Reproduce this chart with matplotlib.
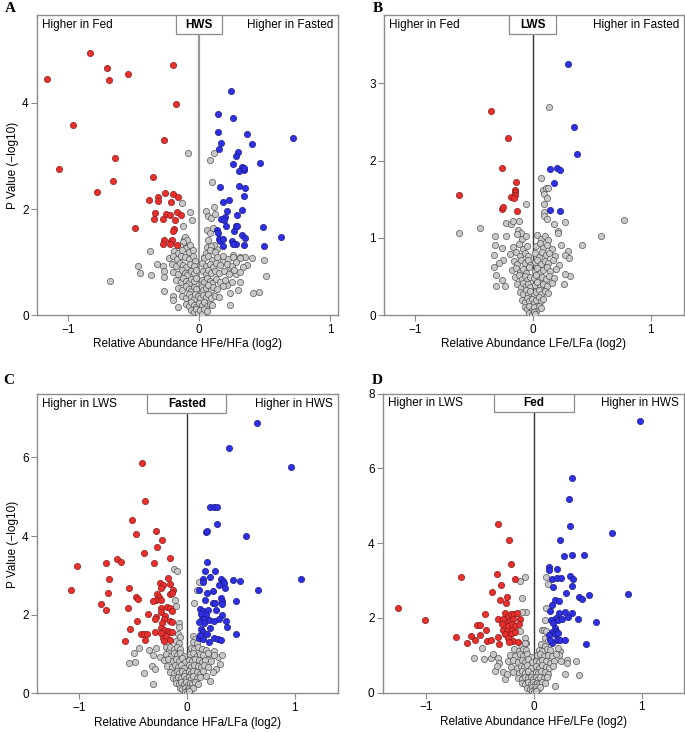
from __future__ import annotations

import matplotlib
matplotlib.use("Agg")
import matplotlib.pyplot as plt
from matplotlib.patches import Rectangle
import matplotlib.transforms as mtransforms

plt.rcParams["font.family"] = ["Liberation Sans", "DejaVu Sans"]

# ---------------- Panel A: HWS, HFe/HFa ----------------
red_a = [(-1.163, 4.45), (-0.837, 4.95), (-0.705, 4.65), (-0.692, 4.43), (-0.547, 4.55),
         (-0.196, 4.71), (-0.178, 3.98), (-0.967, 3.59), (-0.267, 3.31), (-1.071, 2.76),
         (-0.646, 2.97), (-0.659, 2.53), (-0.779, 2.32), (-0.354, 2.60), (-0.260, 2.31),
         (-0.384, 2.18), (-0.318, 2.23), (-0.318, 2.16), (-0.201, 2.28), (-0.163, 2.23),
         (-0.214, 2.14), (-0.341, 1.93), (-0.344, 1.82), (-0.257, 1.91), (-0.221, 1.88),
         (-0.168, 1.94), (-0.142, 1.88), (-0.280, 1.81), (-0.183, 1.79), (-0.191, 1.62),
         (-0.196, 1.59), (-0.491, 1.65), (-0.265, 1.42), (-0.275, 1.34), (-0.216, 1.40),
         (-0.204, 1.42), (-0.170, 1.32), (-0.226, 1.34)]
blue_a = [(0.247, 4.23), (0.142, 3.79), (0.257, 3.72), (0.145, 3.45), (0.364, 3.41),
          (0.715, 3.34), (0.170, 3.24), (0.407, 3.22), (0.150, 3.13), (0.295, 3.08),
          (0.280, 3.00), (0.260, 2.85), (0.466, 2.86), (0.331, 2.80), (0.305, 2.72),
          (0.341, 2.73), (0.346, 2.77), (0.305, 2.44), (0.349, 2.39), (0.163, 2.41),
          (0.346, 2.24), (0.229, 2.17), (0.183, 2.14), (0.326, 1.99), (0.216, 1.97),
          (0.290, 1.89), (0.198, 1.85), (0.170, 1.81), (0.193, 1.79), (0.209, 1.69),
          (0.280, 1.69), (0.293, 1.69), (0.135, 1.61), (0.270, 1.59), (0.491, 1.66),
          (0.626, 1.48), (0.328, 1.51), (0.354, 1.45), (0.148, 1.54), (0.150, 1.44),
          (0.160, 1.40), (0.186, 1.43), (0.254, 1.40), (0.280, 1.34), (0.181, 1.30),
          (0.346, 1.32), (0.494, 1.30), (0.262, 1.35)]
grey_a = [(-0.087, 3.05), (0.112, 3.06), (0.084, 2.93), (0.099, 2.51), (-0.682, 0.65),
          (-0.379, 1.21), (-0.471, 0.93), (-0.455, 0.79), (-0.369, 0.75), (-0.323, 0.97),
          (-0.277, 0.93), (-0.265, 0.83), (-0.265, 0.72), (-0.267, 0.46), (-0.198, 0.36),
          (-0.196, 0.28), (-0.158, 0.16), (-0.130, 2.12), (-0.071, 1.94), (-0.051, 1.79),
          (-0.127, 1.69), (-0.115, 1.44), (-0.120, 1.35), (0.056, 1.96), (0.069, 1.87),
          (0.089, 1.84), (0.117, 2.03), (0.125, 1.91), (0.059, 1.60), (0.087, 1.54),
          (0.109, 1.64), (0.071, 1.41), (0.092, 1.29), (0.135, 1.25), (0.117, 1.32),
          (0.407, 1.07), (0.494, 1.04), (0.369, 0.94), (0.509, 0.74), (0.412, 0.42),
          (0.455, 0.43), (0.234, 0.20), (0.282, 0.78), (0.313, 0.63), (0.300, 0.47),
          (0.237, 0.41), (0.211, 0.56), (0.036, 1.10), (0.038, 0.85), (0.262, 1.13),
          (0.313, 1.10), (0.351, 1.10), (0.338, 0.91), (0.237, 0.91), (0.186, 1.03),
          (-0.11, 1.48), (-0.09, 1.42), (-0.12, 1.38), (-0.15, 1.30), (-0.10, 1.27),
          (-0.07, 1.33), (0.06, 1.28), (0.09, 1.31), (-0.19, 1.21), (-0.16, 1.17),
          (-0.13, 1.22), (-0.08, 1.19), (-0.05, 1.23), (0.05, 1.18), (0.08, 1.22),
          (0.12, 1.19), (-0.23, 1.08), (-0.20, 1.12), (-0.17, 1.06), (-0.14, 1.11),
          (-0.11, 1.09), (-0.08, 1.05), (-0.05, 1.12), (-0.03, 1.02), (0.04, 1.07),
          (0.07, 1.11), (0.10, 1.04), (0.14, 1.10), (0.18, 1.12), (0.22, 1.06),
          (0.26, 1.09), (0.31, 1.07), (-0.21, 0.96), (-0.18, 0.92), (-0.15, 0.99),
          (-0.12, 0.94), (-0.10, 0.90), (-0.07, 0.97), (-0.04, 0.93), (0.02, 0.98),
          (0.05, 0.92), (0.08, 0.96), (0.11, 0.91), (0.13, 0.98), (0.16, 0.94),
          (0.21, 0.97), (0.25, 0.92), (0.28, 1.00), (-0.20, 0.82), (-0.16, 0.78),
          (-0.13, 0.85), (-0.11, 0.80), (-0.09, 0.76), (-0.06, 0.84), (-0.04, 0.79),
          (-0.02, 0.86), (0.03, 0.83), (0.05, 0.77), (0.07, 0.86), (0.09, 0.80),
          (0.12, 0.84), (0.15, 0.79), (0.19, 0.83), (0.23, 0.78), (0.27, 0.85),
          (0.31, 0.81), (-0.18, 0.67), (-0.14, 0.63), (-0.12, 0.70), (-0.10, 0.65),
          (-0.08, 0.61), (-0.06, 0.69), (-0.04, 0.64), (-0.02, 0.71), (0.02, 0.66),
          (0.04, 0.62), (0.06, 0.70), (0.08, 0.65), (0.10, 0.61), (0.13, 0.68),
          (0.16, 0.63), (0.20, 0.67), (0.25, 0.62), (-0.16, 0.52), (-0.13, 0.48),
          (-0.10, 0.55), (-0.08, 0.50), (-0.06, 0.46), (-0.04, 0.53), (-0.02, 0.49),
          (0.02, 0.54), (0.03, 0.47), (0.05, 0.51), (0.07, 0.56), (0.09, 0.48),
          (0.11, 0.53), (0.14, 0.50), (0.18, 0.55), (-0.13, 0.37), (-0.10, 0.33),
          (-0.08, 0.39), (-0.06, 0.35), (-0.04, 0.31), (-0.03, 0.40), (-0.01, 0.36),
          (0.01, 0.32), (0.03, 0.38), (0.05, 0.34), (0.07, 0.40), (0.09, 0.33),
          (0.12, 0.37), (0.15, 0.35), (-0.10, 0.22), (-0.08, 0.18), (-0.06, 0.24),
          (-0.04, 0.20), (-0.02, 0.16), (0.00, 0.23), (0.02, 0.19), (0.04, 0.25),
          (0.06, 0.17), (0.08, 0.22), (0.10, 0.20), (-0.06, 0.10), (-0.04, 0.06),
          (-0.02, 0.12), (-0.01, 0.04), (0.01, 0.09), (0.02, 0.03), (0.04, 0.11),
          (0.06, 0.07)]

# ---------------- Panel B: LWS, LFe/LFa ----------------
red_b = [(-0.354, 2.64), (-0.207, 2.29), (-0.257, 1.90), (-0.141, 1.73), (-0.153, 1.62),
         (-0.147, 1.59), (-0.150, 1.56), (-0.181, 1.53), (-0.161, 1.52), (-0.622, 1.55),
         (-0.260, 1.37), (-0.254, 1.40), (-0.136, 1.35)]
blue_b = [(0.297, 3.25), (0.348, 2.44), (0.371, 2.08), (0.150, 1.89), (0.209, 1.91),
          (0.232, 1.88), (0.178, 1.71), (0.144, 1.36), (0.232, 1.35)]
grey_b = [(0.136, 2.69), (-0.628, 1.07), (-0.447, 1.13), (0.772, 1.23), (0.580, 1.03),
          (0.416, 0.91), (0.068, 1.77), (-0.059, 1.44), (0.085, 1.62), (0.113, 1.64),
          (0.130, 1.64), (0.099, 1.57), (0.119, 1.52), (0.091, 1.44), (0.091, 1.34),
          (0.096, 1.29), (0.124, 1.24), (0.184, 1.18), (0.277, 1.21), (0.215, 1.09),
          (0.215, 1.06), (0.243, 0.91), (0.300, 0.83), (0.272, 0.78), (0.311, 0.74),
          (0.320, 0.51), (0.272, 0.53), (0.266, 0.40), (0.226, 0.65), (-0.322, 1.03),
          (-0.322, 0.91), (-0.260, 0.87), (-0.325, 0.78), (-0.254, 0.72), (-0.283, 0.67),
          (-0.331, 0.63), (-0.311, 0.52), (-0.260, 0.46), (-0.311, 0.38), (-0.232, 0.38),
          (-0.226, 1.03), (-0.229, 1.19), (-0.184, 1.18), (-0.170, 1.22), (-0.113, 1.22),
          (-0.127, 1.10), (-0.099, 1.06),
          (-0.13, 1.05), (-0.09, 0.98), (-0.06, 1.02), (0.04, 1.04), (0.07, 0.99),
          (0.10, 1.02), (0.13, 0.97), (-0.17, 0.88), (-0.12, 0.92), (-0.08, 0.86),
          (-0.05, 0.90), (0.03, 0.89), (0.06, 0.93), (0.09, 0.87), (0.12, 0.91),
          (0.16, 0.86), (-0.19, 0.79), (-0.14, 0.82), (-0.11, 0.77), (-0.07, 0.81),
          (-0.04, 0.76), (0.02, 0.80), (0.05, 0.75), (0.08, 0.82), (0.11, 0.78),
          (0.14, 0.81), (0.19, 0.77), (-0.16, 0.70), (-0.13, 0.66), (-0.10, 0.72),
          (-0.07, 0.68), (-0.04, 0.71), (-0.02, 0.65), (0.02, 0.69), (0.04, 0.72),
          (0.07, 0.66), (0.10, 0.70), (0.13, 0.67), (0.17, 0.71), (-0.18, 0.58),
          (-0.14, 0.61), (-0.11, 0.56), (-0.08, 0.60), (-0.06, 0.55), (-0.03, 0.62),
          (0.02, 0.57), (0.04, 0.61), (0.06, 0.55), (0.09, 0.59), (0.12, 0.62),
          (0.15, 0.57), (0.20, 0.60), (-0.15, 0.49), (-0.12, 0.52), (-0.09, 0.47),
          (-0.07, 0.51), (-0.05, 0.46), (-0.02, 0.50), (0.01, 0.48), (0.03, 0.52),
          (0.05, 0.46), (0.08, 0.50), (0.11, 0.47), (0.14, 0.51), (0.18, 0.48),
          (-0.13, 0.40), (-0.10, 0.37), (-0.08, 0.42), (-0.06, 0.38), (-0.04, 0.41),
          (-0.02, 0.36), (0.02, 0.39), (0.04, 0.43), (0.06, 0.37), (0.09, 0.41),
          (0.12, 0.38), (0.16, 0.42), (-0.11, 0.30), (-0.08, 0.27), (-0.06, 0.32),
          (-0.04, 0.28), (-0.02, 0.31), (0.01, 0.26), (0.03, 0.30), (0.05, 0.33),
          (0.07, 0.28), (0.10, 0.31), (0.13, 0.29), (-0.09, 0.20), (-0.07, 0.17),
          (-0.05, 0.22), (-0.03, 0.18), (-0.01, 0.21), (0.01, 0.16), (0.03, 0.20),
          (0.05, 0.23), (0.07, 0.18), (0.09, 0.21), (-0.07, 0.11), (-0.05, 0.08),
          (-0.03, 0.12), (-0.01, 0.07), (0.01, 0.10), (0.03, 0.06), (0.05, 0.12),
          (0.07, 0.09), (-0.03, 0.03), (-0.01, 0.02), (0.01, 0.04), (0.02, 0.01)]

# ---------------- Panel C: Fasted, HFa/LFa ----------------
red_c = [(-0.420, 5.86), (-0.386, 4.90), (-0.509, 4.41), (-0.472, 4.06), (-0.287, 4.12),
         (-0.228, 3.89), (-0.281, 3.73), (-0.401, 3.56), (-0.306, 3.32), (-0.154, 3.43),
         (-0.645, 3.42), (-0.608, 3.35), (-0.753, 3.31), (-1.019, 3.25), (-1.077, 2.62),
         (-0.725, 2.92), (-0.731, 2.56), (-0.799, 2.28), (-0.753, 2.11), (-0.537, 2.67),
         (-0.469, 2.46), (-0.451, 2.39), (-0.549, 2.18), (-0.364, 2.01), (-0.460, 1.83),
         (-0.531, 1.64), (-0.571, 1.32), (-0.423, 1.51), (-0.395, 1.50), (-0.370, 1.50),
         (-0.386, 1.35), (-0.179, 2.93), (-0.253, 2.80), (-0.222, 2.75), (-0.238, 2.68),
         (-0.154, 2.78), (-0.127, 2.64), (-0.157, 2.53), (-0.139, 2.56), (-0.272, 2.53),
         (-0.259, 2.46), (-0.284, 2.37), (-0.315, 2.34), (-0.244, 2.37), (-0.188, 2.20),
         (-0.238, 2.17), (-0.160, 2.16), (-0.133, 2.10), (-0.241, 2.06), (-0.284, 1.93),
         (-0.296, 1.88), (-0.201, 1.97), (-0.210, 1.89), (-0.154, 1.85), (-0.139, 1.81),
         (-0.231, 1.78), (-0.238, 1.65), (-0.207, 1.61), (-0.176, 1.59), (-0.160, 1.55),
         (-0.136, 1.55), (-0.299, 1.55), (-0.238, 1.53), (-0.222, 1.41), (-0.191, 1.47),
         (-0.154, 1.36), (-0.216, 1.34)]
blue_c = [(0.651, 6.86), (0.392, 6.24), (0.963, 5.75), (0.216, 4.73), (0.250, 4.73),
          (0.284, 4.73), (0.281, 4.31), (0.176, 4.09), (0.185, 4.12), (0.549, 4.01),
          (0.191, 3.35), (0.173, 3.12), (0.262, 3.12), (0.219, 2.97), (0.154, 2.91),
          (0.148, 2.82), (1.056, 2.90), (0.318, 2.91), (0.333, 2.86), (0.343, 2.81),
          (0.352, 2.69), (0.302, 2.76), (0.432, 2.88), (0.494, 2.85), (0.664, 2.64),
          (0.185, 2.55), (0.244, 2.61), (0.117, 2.64), (0.315, 2.42), (0.327, 2.36),
          (0.324, 2.27), (0.241, 2.31), (0.265, 2.30), (0.170, 2.38), (0.454, 2.34),
          (0.127, 2.14), (0.154, 2.10), (0.194, 2.12), (0.272, 2.12), (0.133, 2.02),
          (0.179, 2.00), (0.327, 2.00), (0.142, 1.89), (0.164, 1.89), (0.210, 1.87),
          (0.256, 1.85), (0.302, 1.89), (0.160, 1.78), (0.117, 1.81), (0.364, 1.83),
          (0.373, 1.70), (0.133, 1.64), (0.216, 1.66), (0.154, 1.55), (0.185, 1.51),
          (0.460, 1.50), (0.117, 1.41), (0.148, 1.38), (0.210, 1.31), (0.256, 1.40),
          (0.293, 1.39), (0.321, 1.36), (0.123, 1.48)]
grey_c = [(-0.117, 3.17), (-0.090, 3.12), (-0.108, 2.38), (-0.102, 2.23), (-0.074, 1.78),
          (-0.068, 1.70), (0.111, 2.82), (0.096, 2.63), (0.065, 2.31), (-0.537, 0.77),
          (-0.478, 0.81), (-0.491, 1.03), (-0.444, 1.15), (-0.401, 0.53), (-0.312, 0.24),
          (-0.349, 1.11), (-0.315, 0.97), (-0.284, 1.15), (-0.321, 0.70), (-0.299, 0.62),
          (-0.253, 0.92), (-0.191, 1.17), (-0.167, 1.10), (0.210, 1.00), (0.256, 1.08),
          (0.287, 0.92), (0.327, 0.97), (0.306, 0.75), (0.272, 0.62), (0.219, 0.32),
          (0.179, 0.43), (0.241, 0.55), (-0.08, 1.52), (-0.06, 1.43), (0.06, 1.47),
          (0.08, 1.38),
          (-0.10, 1.32), (-0.07, 1.28), (0.06, 1.30), (0.09, 1.27), (-0.16, 1.17),
          (-0.12, 1.12), (-0.09, 1.19), (-0.06, 1.14), (0.04, 1.16), (0.07, 1.12),
          (0.10, 1.18), (0.14, 1.14), (0.18, 1.10), (-0.19, 1.00), (-0.15, 0.96),
          (-0.12, 1.03), (-0.09, 0.98), (-0.06, 1.02), (-0.03, 0.95), (0.03, 0.99),
          (0.06, 1.03), (0.09, 0.96), (0.12, 1.01), (0.15, 0.97), (0.20, 1.02),
          (0.25, 0.98), (-0.21, 0.84), (-0.17, 0.88), (-0.13, 0.82), (-0.10, 0.87),
          (-0.07, 0.83), (-0.04, 0.89), (-0.02, 0.81), (0.02, 0.86), (0.05, 0.82),
          (0.08, 0.88), (0.11, 0.84), (0.14, 0.80), (0.17, 0.86), (0.22, 0.83),
          (-0.18, 0.70), (-0.14, 0.66), (-0.11, 0.72), (-0.08, 0.68), (-0.05, 0.73),
          (-0.03, 0.65), (0.02, 0.71), (0.04, 0.67), (0.07, 0.73), (0.10, 0.69),
          (0.13, 0.66), (0.16, 0.71), (0.20, 0.68), (-0.16, 0.55), (-0.12, 0.52),
          (-0.09, 0.57), (-0.07, 0.53), (-0.04, 0.58), (-0.02, 0.51), (0.02, 0.56),
          (0.04, 0.52), (0.06, 0.58), (0.09, 0.54), (0.12, 0.50), (0.15, 0.56),
          (-0.13, 0.40), (-0.10, 0.37), (-0.08, 0.42), (-0.05, 0.38), (-0.03, 0.43),
          (-0.01, 0.36), (0.02, 0.41), (0.04, 0.37), (0.06, 0.43), (0.09, 0.39),
          (0.12, 0.41), (-0.10, 0.26), (-0.07, 0.23), (-0.05, 0.28), (-0.03, 0.24),
          (-0.01, 0.29), (0.01, 0.22), (0.03, 0.27), (0.05, 0.23), (0.08, 0.28),
          (0.10, 0.25), (-0.06, 0.13), (-0.04, 0.10), (-0.02, 0.15), (0.00, 0.09),
          (0.02, 0.14), (0.04, 0.11), (0.06, 0.15), (-0.02, 0.04), (0.00, 0.02),
          (0.02, 0.05)]

# ---------------- Panel D: Fed, HFe/LFe ----------------
red_d = [(-1.256, 2.27), (-1.009, 1.94), (-0.679, 3.10), (-0.333, 4.50), (-0.228, 4.09),
         (-0.213, 3.43), (-0.340, 3.18), (-0.309, 2.88), (-0.176, 3.05), (-0.392, 2.68),
         (-0.253, 2.57), (-0.318, 2.47), (-0.259, 2.40), (-0.454, 2.11), (-0.722, 1.48),
         (-0.620, 1.33), (-0.586, 1.51), (-0.546, 1.42), (-0.528, 1.80), (-0.500, 1.82),
         (-0.500, 1.55), (-0.444, 1.69), (-0.438, 1.37), (-0.398, 1.40), (-0.333, 1.50),
         (-0.324, 1.31), (-0.269, 2.14), (-0.333, 1.98), (-0.284, 1.96), (-0.238, 2.05),
         (-0.216, 2.10), (-0.185, 2.10), (-0.160, 2.14), (-0.253, 1.87), (-0.222, 1.92),
         (-0.191, 1.96), (-0.130, 1.96), (-0.299, 1.83), (-0.238, 1.78), (-0.207, 1.83),
         (-0.176, 1.78), (-0.139, 1.85), (-0.290, 1.69), (-0.247, 1.65), (-0.198, 1.69),
         (-0.269, 1.58), (-0.216, 1.58), (-0.176, 1.61), (-0.238, 1.47), (-0.191, 1.37),
         (-0.145, 1.36), (-0.228, 1.36)]
blue_d = [(0.981, 7.27), (0.358, 5.73), (0.324, 5.17), (0.336, 4.45), (0.722, 4.27),
          (0.247, 4.08), (0.278, 3.66), (0.352, 3.68), (0.466, 3.69), (0.142, 3.35),
          (0.145, 3.28), (0.216, 3.31), (0.333, 3.12), (0.361, 3.03), (0.167, 3.05),
          (0.216, 3.07), (0.250, 3.07), (0.182, 2.83), (0.352, 2.85), (0.302, 2.66),
          (0.877, 2.65), (0.512, 2.61), (0.417, 2.57), (0.444, 2.50), (0.194, 2.47),
          (0.231, 2.45), (0.173, 2.35), (0.148, 2.19), (0.231, 2.14), (0.287, 2.17),
          (0.352, 2.14), (0.315, 2.03), (0.210, 1.99), (0.228, 1.94), (0.262, 1.98),
          (0.157, 1.95), (0.182, 1.86), (0.410, 1.98), (0.574, 1.89), (0.194, 1.74),
          (0.170, 1.62), (0.207, 1.65), (0.194, 1.58), (0.222, 1.60), (0.142, 1.53),
          (0.216, 1.42), (0.241, 1.42), (0.287, 1.40), (0.170, 1.34), (0.148, 1.40),
          (0.488, 1.31)]
grey_d = [(-0.083, 3.10), (-0.130, 2.99), (-0.108, 2.54), (-0.074, 2.17), (-0.108, 2.17),
          (0.111, 3.10), (0.136, 2.90), (0.117, 2.26), (0.108, 1.94), (0.080, 1.68),
          (-0.485, 1.20), (-0.556, 0.92), (-0.463, 0.89), (-0.361, 0.58), (-0.401, 0.94),
          (-0.383, 1.03), (-0.333, 0.94), (-0.321, 0.80), (-0.340, 0.71), (-0.284, 0.54),
          (-0.269, 0.36), (-0.253, 0.49), (0.395, 0.85), (0.420, 0.46), (0.312, 0.87),
          (0.309, 0.80), (0.287, 0.49), (0.256, 0.85), (0.247, 1.12), (0.225, 1.20),
          (0.194, 0.18), (0.235, 1.00), (-0.130, 1.65), (-0.083, 1.47), (-0.068, 1.34),
          (0.093, 1.68), (0.117, 1.65), (0.102, 1.47), (0.133, 1.38),
          (-0.12, 1.28), (-0.08, 1.33), (0.07, 1.30), (0.10, 1.26), (-0.18, 1.16),
          (-0.14, 1.12), (-0.10, 1.18), (-0.07, 1.13), (0.05, 1.15), (0.08, 1.11),
          (0.12, 1.17), (0.15, 1.13), (-0.22, 1.01), (-0.17, 0.97), (-0.13, 1.04),
          (-0.10, 0.99), (-0.06, 1.03), (-0.03, 0.96), (0.03, 1.00), (0.06, 1.04),
          (0.09, 0.97), (0.13, 1.02), (0.17, 0.98), (0.21, 1.03), (-0.24, 0.84),
          (-0.19, 0.88), (-0.15, 0.82), (-0.11, 0.87), (-0.08, 0.83), (-0.05, 0.89),
          (-0.02, 0.81), (0.02, 0.86), (0.05, 0.82), (0.08, 0.88), (0.11, 0.84),
          (0.15, 0.80), (0.19, 0.86), (-0.21, 0.70), (-0.16, 0.66), (-0.12, 0.72),
          (-0.09, 0.68), (-0.06, 0.73), (-0.03, 0.65), (0.02, 0.71), (0.05, 0.67),
          (0.08, 0.73), (0.11, 0.69), (0.14, 0.66), (0.18, 0.71), (-0.19, 0.55),
          (-0.14, 0.52), (-0.11, 0.57), (-0.08, 0.53), (-0.05, 0.58), (-0.02, 0.51),
          (0.02, 0.56), (0.04, 0.52), (0.07, 0.58), (0.10, 0.54), (0.13, 0.50),
          (-0.15, 0.40), (-0.11, 0.37), (-0.08, 0.42), (-0.05, 0.38), (-0.03, 0.43),
          (-0.01, 0.36), (0.02, 0.41), (0.04, 0.37), (0.06, 0.43), (0.09, 0.39),
          (0.12, 0.41), (-0.11, 0.26), (-0.08, 0.23), (-0.05, 0.28), (-0.03, 0.24),
          (-0.01, 0.29), (0.01, 0.22), (0.03, 0.27), (0.05, 0.23), (0.08, 0.28),
          (0.10, 0.25), (-0.06, 0.13), (-0.04, 0.10), (-0.02, 0.15), (0.00, 0.09),
          (0.02, 0.14), (0.04, 0.11), (0.06, 0.15), (-0.02, 0.04), (0.00, 0.02),
          (0.02, 0.05)]

panel_letters = ["A", "B", "C", "D"]
panel_titles = ["HWS", "LWS", "Fasted", "Fed"]
left_labels = ["Higher in Fed", "Higher in Fed", "Higher in LWS", "Higher in LWS"]
right_labels = ["Higher in Fasted", "Higher in Fasted", "Higher in HWS", "Higher in HWS"]
x_labels = ["Relative Abundance HFe/HFa (log2)", "Relative Abundance LFe/LFa (log2)",
            "Relative Abundance HFa/LFa (log2)", "Relative Abundance HFe/LFe (log2)"]
y_ticks = [[0, 2, 4], [0, 1, 2, 3], [0, 2, 4, 6], [0, 2, 4, 6, 8]]

FRAME = "#8c8c8c"
GREY_FILL, GREY_EDGE = "#c9c9c9", "#555555"
RED_FILL, RED_EDGE = "#e8302e", "#8a1a1a"
BLUE_FILL, BLUE_EDGE = "#2f2fe6", "#1a1a80"


def draw_panel(ax, grey, red, blue, i, xlim, ylim, box_half, line_color, line_w):
    for pts, fc, ec in [(grey, GREY_FILL, GREY_EDGE), (red, RED_FILL, RED_EDGE),
                        (blue, BLUE_FILL, BLUE_EDGE)]:
        xs = [p[0] for p in pts]
        ys = [p[1] for p in pts]
        ax.scatter(xs, ys, s=20, facecolor=fc, edgecolor=ec, linewidth=0.5, zorder=3)

    ax.set_xlim(*xlim)
    ax.set_ylim(*ylim)
    ax.set_xticks([-1, 0, 1])
    ax.set_xticklabels(["\u22121", "0", "1"])
    ax.set_yticks(y_ticks[i])
    for sp in ax.spines.values():
        sp.set_color(FRAME)
        sp.set_linewidth(1.0)
    ax.tick_params(direction="out", length=4, width=0.8, color=FRAME, labelsize=8.5,
                   pad=2)

    # box with panel title, hanging from the top frame
    trans = mtransforms.blended_transform_factory(ax.transData, ax.transAxes)
    box_h = 0.063
    ax.add_patch(Rectangle((-box_half, 1 - box_h), 2 * box_half, box_h, transform=trans,
                           facecolor="white", edgecolor=FRAME, linewidth=0.9, zorder=5))
    ax.text(0, 1 - box_h / 2, panel_titles[i], transform=trans, ha="center", va="center",
            fontsize=8.5, fontweight="bold", zorder=6)
    ax.plot([0, 0], [0, 1 - box_h], transform=trans, color=line_color, lw=line_w, zorder=2)

    ax.text(0.017, 1 - box_h / 2, left_labels[i], transform=ax.transAxes, ha="left",
            va="center", fontsize=8.5)
    ax.text(0.985, 1 - box_h / 2, right_labels[i], transform=ax.transAxes, ha="right",
            va="center", fontsize=8.5)
    ax.set_xlabel(x_labels[i], fontsize=8.5, labelpad=2)


fig = plt.figure(figsize=(6.85, 7.33), dpi=100)
ax_a = fig.add_axes([0.054, 0.570, 0.439, 0.409])
ax_b = fig.add_axes([0.561, 0.570, 0.437, 0.409])
ax_c = fig.add_axes([0.054, 0.054, 0.439, 0.408])
ax_d = fig.add_axes([0.559, 0.055, 0.439, 0.408])

draw_panel(ax_a, grey_a, red_a, blue_a, 0, (-1.24, 1.06), (0, 5.65), 0.176, "#999999", 1.6)
draw_panel(ax_b, grey_b, red_b, blue_b, 1, (-1.26, 1.28), (0, 3.88), 0.20, "#333333", 1.0)
draw_panel(ax_c, grey_c, red_c, blue_c, 2, (-1.39, 1.40), (0, 7.6), 0.365, "#333333", 1.0)
draw_panel(ax_d, grey_d, red_d, blue_d, 3, (-1.40, 1.39), (0, 8.0), 0.37, "#333333", 1.0)

ax_a.set_ylabel("P Value (\u2212log10)", fontsize=8.5, labelpad=2)
ax_c.set_ylabel("P Value (\u2212log10)", fontsize=8.5, labelpad=2)

# panel letters, placed in figure pixels (top-left origin)
letter_pos = [(10, 8), (378, 8), (9, 381), (377, 380)]
for letter, (px, py) in zip(panel_letters, letter_pos):
    fig.text(px / 685, 1 - py / 733, letter, ha="center", va="center",
             fontsize=11, fontweight="bold", family="Liberation Serif")

fig.savefig("out.png", dpi=100)
